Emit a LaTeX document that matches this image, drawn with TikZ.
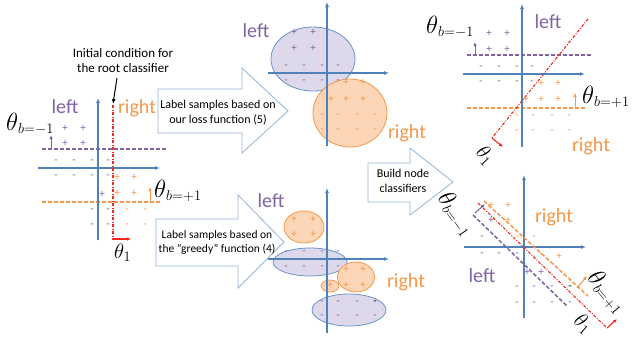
\documentclass[tikz,border=0pt]{standalone}
\usepackage[no-math]{fontspec}
\setmainfont{Carlito}
\usetikzlibrary{arrows.meta}
\definecolor{axb}{RGB}{79,129,189}
\definecolor{pur}{RGB}{128,100,162}
\definecolor{ora}{RGB}{247,150,70}
\definecolor{pfill}{RGB}{221,217,235}
\definecolor{ofill}{RGB}{252,214,182}
\definecolor{arrb}{RGB}{149,179,215}
\definecolor{rdl}{RGB}{240,40,30}
\newcommand\bigth{\mbox{\scalebox{1.2}{$\theta$}}}
\begin{document}
\begin{tikzpicture}[x=1pt,y=-1pt,
  axis/.style={draw=axb, line width=1.1pt, -{Latex[length=5pt,width=4pt]}},
  pdash/.style={draw=pur, line width=1.5pt, dash pattern=on 4pt off 2pt},
  odash/.style={draw=ora, line width=1.5pt, dash pattern=on 4pt off 2pt},
  rdd/.style={draw=rdl, line width=1.1pt, dash pattern=on 3pt off 1.5pt on 1pt off 1.5pt},
  rarr/.style={draw=rdl, line width=1.1pt, -{Latex[length=4pt,width=3.5pt]}},
  parr/.style={draw=pur, line width=1pt, -{Latex[length=4pt,width=3.5pt]}},
  oarr/.style={draw=ora, line width=1pt, -{Latex[length=4pt,width=3.5pt]}},
  word/.style={font=\fontsize{20}{22}\selectfont, inner sep=0, anchor=base},
  thb/.style={font=\fontsize{21}{24}\selectfont, inner sep=0},
  tho/.style={font=\fontsize{21}{24}\selectfont, inner sep=0},
  sgn/.style={font=\fontsize{11}{11}\selectfont, inner sep=0},
  blk/.style={draw=arrb, line width=0.8pt, fill=white},
  btxt/.style={font=\fontsize{12}{15}\selectfont, align=center, inner sep=0},
  pell/.style={draw=axb!85, fill=pfill, line width=0.8pt},
  oell/.style={draw=ora, fill=ofill, line width=0.8pt}]
\useasboundingbox (0,0) rectangle (639,338);

% ---------------- block arrows ----------------
\draw[blk] (158,89) -- (242,89) -- (242,68) -- (288,111) -- (242,153) -- (242,133) -- (158,133) -- cycle;
\node[btxt] (t1) at (218,113) {Label samples based on\\our loss function (5)};
\draw[blk] (156,219) -- (238,219) -- (238,195) -- (284,242) -- (238,288) -- (238,266) -- (156,266) -- cycle;
\node[btxt, font=\fontsize{11.5}{14}\selectfont] (t2) at (217,242) {Label samples based on\\the “greedy” function (4)};
\draw[blk] (368,163) -- (410,163) -- (410,148) -- (453,182) -- (410,215) -- (410,202) -- (368,202) -- cycle;
\node[btxt] (t3) at (403,181) {Build node\\classifiers};

% ---------------- panel 1 (root) ----------------
\node[btxt, font=\fontsize{13}{15}\selectfont] (init) at (123,61) {Initial condition for\\the root classifier};
\coordinate (ia) at (117,78);
\coordinate (ib) at (113,104);
\draw[line width=1pt, -{Latex[length=5pt,width=4pt]}] (ia) -- (ib);
\draw[pdash] (42,149) -- (167,149);
\draw[odash] (42,202) -- (160,202);
\draw[axis] (98,240) -- (98,98);
\draw[axis] (38,168) -- (160,168);
\draw[rdd] (113,105) -- (113,239);
\draw[rarr] (112,239) -- (131,239);
\draw[parr] (51,149) -- (51,135);
\draw[oarr] (150,202) -- (150,187);
\node[word, text=pur] (l1) at (65,113) {left};
\node[word, text=ora] (r1) at (137,113) {right};
\node[thb, anchor=base west] (tb1) at (6,130) {$\bigth_{b=-1}$};
\node[thb, anchor=base west] (tp1) at (154,197) {$\bigth_{b=+1}$};
\node[tho, anchor=base west] (tt1) at (114,258) {$\theta_1$};
\foreach \x/\y in {65/128,83/128,65/143,83/143,102/194}
  \node[sgn, text=pur] at (\x,\y) {+};
\foreach \x/\y in {56/162,74/162,92/162,108/162,56/177,74/177,92/177,108/177,92/211,108/211,92/226,108/226}
  \node[sgn, text=pur] at (\x,\y) {-};
\foreach \x/\y in {117/177,134/177,117/193,134/193}
  \node[sgn, text=ora] at (\x,\y) {+};
\foreach \x/\y in {127/211,145/211,127/226,145/226}
  \node[sgn, text=ora] at (\x,\y) {-};

% ---------------- panel 2 (our loss) ----------------
\draw[pell] (313,59) ellipse [x radius=42pt, y radius=32pt];
\draw[oell] (350,113) ellipse [x radius=37pt, y radius=34pt];
\draw[axis] (327,146) -- (327,2);
\draw[axis] (268,73) -- (389,73);
\node[word, text=pur] (l2) at (256,37) {left};
\node[word, text=ora] (r2) at (407,138) {right};
\foreach \x/\y in {294/32,313/32,294/48,313/48}
  \node[sgn, text=pur] at (\x,\y) {+};
\foreach \x/\y in {286/67,304/67,322/67,338/67,286/82,304/82,322/82,338/82}
  \node[sgn, text=pur] at (\x,\y) {-};
\foreach \x/\y in {346/82,363/82,331/99,346/99,363/99}
  \node[sgn, text=ora] at (\x,\y) {+};
\foreach \x/\y in {322/116,338/116,357/116,375/116,322/131,338/131,357/131,375/131}
  \node[sgn, text=ora] at (\x,\y) {-};

% ---------------- panel 3 (greedy) ----------------
\draw[oell] (304,227) ellipse [x radius=20pt, y radius=16pt];
\draw[pell] (310,262) ellipse [x radius=37pt, y radius=14pt];
\draw[oell] (356,277) ellipse [x radius=18.5pt, y radius=15pt];
\draw[oell] (330,286) ellipse [x radius=9pt, y radius=6pt];
\draw[pell] (349,310) ellipse [x radius=37pt, y radius=16pt];
\draw[axis] (327,333) -- (327,188);
\draw[axis] (268,259) -- (389,259);
\node[word, text=pur] (l3) at (271,207) {left};
\node[word, text=ora] (r3) at (406,287) {right};
\foreach \x/\y in {294/219,313/219,294/234,313/234,346/269,363/269,346/285,363/285,330/285}
  \node[sgn, text=ora] at (\x,\y) {+};
\foreach \x/\y in {286/253,304/253,322/253,338/253,286/268,304/268,322/268,338/268,322/303,338/303,357/303,322/317,338/317,357/317,375/317}
  \node[sgn, text=pur] at (\x,\y) {-};
\node[sgn] at (375,303) {-};

% ---------------- panel 4 (top right) ----------------
\draw[pdash] (467,55) -- (591,55);
\draw[odash] (467,108) -- (585,108);
\draw[axis] (522,147) -- (522,4);
\draw[axis] (463,74) -- (585,74);
\coordinate (ra) at (588,19);
\coordinate (rb) at (492,138);
\coordinate (rc) at (503,147);
\draw[rdd] (ra) -- (rb);
\draw[rarr] (rb) -- (rc);
\draw[parr] (475,55) -- (475,42);
\draw[oarr] (575,108) -- (575,93);
\node[word, text=pur] (l4) at (548,28) {left};
\node[word, text=ora] (r4) at (591,151) {right};
\node[thb, anchor=base west] (tb4) at (426,33) {$\bigth_{b=-1}$};
\node[thb, anchor=base west] (tp4) at (582,103) {$\bigth_{b=+1}$};
\node[tho, rotate=-45] (tt4) at (485,156) {$\theta_1$};
\foreach \x/\y in {489/33,507/33,489/49,507/49}
  \node[sgn, text=pur] at (\x,\y) {+};
\foreach \x/\y in {481/68,499/68,517/68,532/68,481/83,499/83,517/83,532/83}
  \node[sgn, text=pur] at (\x,\y) {-};
\foreach \x/\y in {541/83,558/83,526/99,541/99,558/99}
  \node[sgn, text=ora] at (\x,\y) {+};
\foreach \x/\y in {517/117,533/117,552/117,569/117,517/132,533/132,552/132,569/132}
  \node[sgn, text=ora] at (\x,\y) {-};

% ---------------- panel 5 (bottom right) ----------------
\draw[axis] (524,318) -- (524,175);
\draw[axis] (464,247) -- (586,247);
\draw[odash] (484,201) -- (588,296);
\draw[pdash] (473,215) -- (567,306);
\coordinate (sa) at (478,203);
\coordinate (sb) at (607,328);
\coordinate (sc) at (617,319);
\draw[rdd] (sa) -- (sb);
\draw[rarr] (sb) -- (sc);
\draw[parr] (475,213) -- (485,204);
\draw[oarr] (577,288) -- (587,276);
\node[word, text=ora] (r5) at (554,222) {right};
\node[word, text=pur] (l5) at (482,282) {left};
\node[thb, rotate=-55] (tb5) at (456,214) {$\bigth_{b=-1}$};
\node[thb, rotate=-50] (tp5) at (607,292) {$\bigth_{b=+1}$};
\node[tho, rotate=-40] (tt5) at (583,324) {$\theta_1$};
\foreach \x/\y in {491/205,508/205,508/220,559/256}
  \node[sgn, text=ora] at (\x,\y) {+};
\foreach \x/\y in {518/238,534/238,541/256}
  \node[sgn, text=ora] at (\x,\y) {-};
\foreach \x/\y in {491/220,527/272,541/272}
  \node[sgn, text=pur] at (\x,\y) {+};
\foreach \x/\y in {482/238,482/255,499/255,517/255,517/288,534/288,552/288,517/304,534/304,552/304,570/304}
  \node[sgn, text=pur] at (\x,\y) {-};
\node[sgn] at (570,288) {-};
\end{tikzpicture}
\end{document}
